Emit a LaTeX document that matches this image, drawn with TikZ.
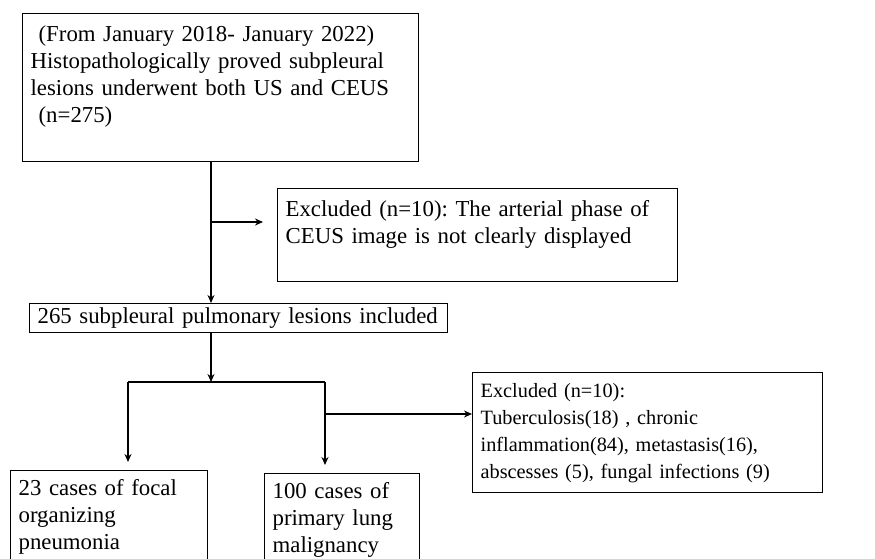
\documentclass[tikz,border=0pt]{standalone}
\usepackage{fontspec}
\setmainfont{Liberation Serif}
\usetikzlibrary{arrows.meta}
\frenchspacing
\hyphenpenalty=10000
\tikzset{
  flowbox/.style={draw, line width=1.3pt, anchor=north west, align=left, inner xsep=8pt, inner ysep=2pt, font=\fontsize{22.8}{27}\selectfont},
  flowline/.style={line width=1.3pt},
  flowarrow/.style={flowline, -{Stealth[length=8pt,width=7pt]}}
}
\begin{document}
\begin{tikzpicture}[x=1pt,y=-1pt]
\clip (0,0) rectangle (875,559);
\node[flowbox, text width=380pt, minimum height=148pt] (start) at (22,13) {\hspace{8pt}(From January 2018- January 2022)\\Histopathologically proved subpleural\\lesions underwent both US and CEUS\\\hspace{8pt}(n=275)\\\mbox{}};
\node[flowbox, text width=384pt, minimum height=93pt] (excl1) at (277,188) {Excluded (n=10): The arterial phase of\\CEUS image is not clearly displayed\\\mbox{}};
\node[flowbox, text width=402pt, minimum height=29pt] (incl) at (29,303) {265 subpleural pulmonary lesions included};
\node[flowbox, text width=334pt, minimum height=120pt, font=\fontsize{20.3}{27}\selectfont] (excl2) at (472,372) {Excluded (n=10):\\Tuberculosis(18) , chronic\\inflammation(84), metastasis(16),\\abscesses (5), fungal infections (9)};
\node[flowbox, text width=181pt, inner ysep=8.5pt] (fop) at (10,470) {23 cases of focal\\organizing\\pneumonia};
\node[flowbox, text width=139pt, inner ysep=8.5pt] (plm) at (264,473) {100 cases of\\primary lung\\malignancy};
\coordinate (split1) at (211,222);
\coordinate (split2) at (211,382);
\coordinate (fork-l) at (128,382);
\coordinate (fork-r) at (325,382);
\coordinate (side) at (325,414);
\draw[flowline] (start.south -| split1) -- (split1);
\draw[flowarrow] (split1) -- (incl.north -| split1);
\draw[flowarrow, shorten >=14pt] (split1) -- (excl1.west |- split1);
\draw[flowarrow] (incl.south -| split2) -- (split2);
\draw[flowline] (fork-l) -- (fork-r);
\foreach \c/\n in {fork-l/fop,fork-r/plm} {\draw[flowarrow, shorten >=8pt] (\c) -- (\n.north -| \c);}
\draw[flowarrow] (side) -- (excl2.west |- side);
\end{tikzpicture}
\end{document}
